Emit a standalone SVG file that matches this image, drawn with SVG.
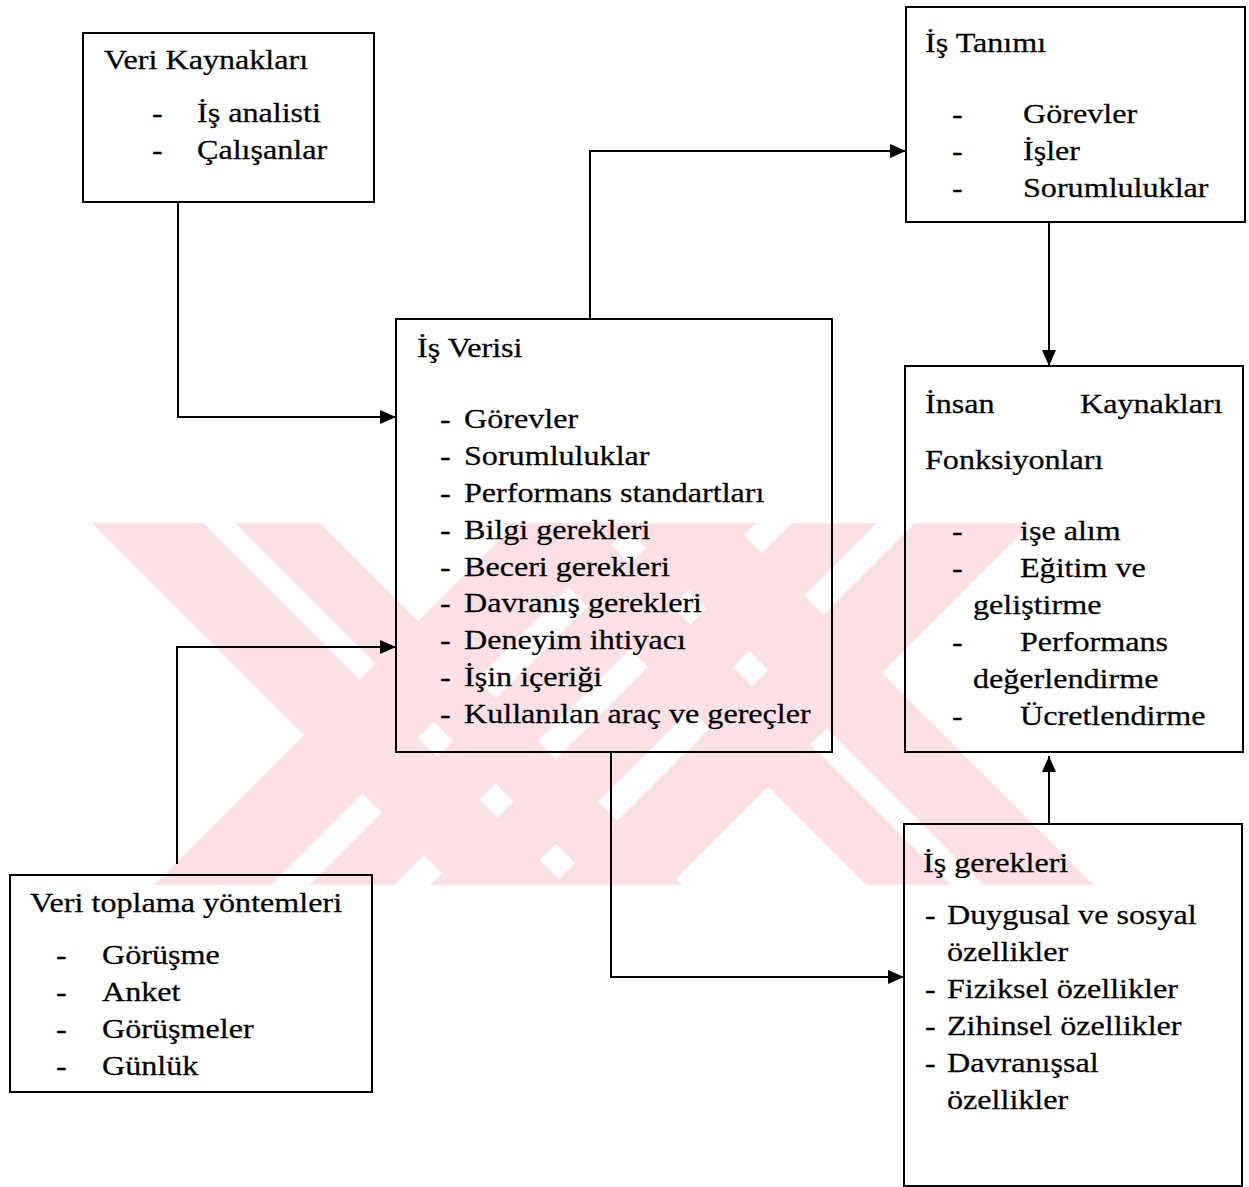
<svg xmlns="http://www.w3.org/2000/svg" width="1249" height="1187" viewBox="0 0 1249 1187">
  <style>
    .box { fill: none; stroke: #000; stroke-width: 2; }
    .link { fill: none; stroke: #000; stroke-width: 2; marker-end: url(#arrow); }
    .mark { fill: #fbe0e5; stroke: none; }
    .t { font-family: "Liberation Serif", "Times New Roman", serif; font-size: 27px; fill: #000;
         stroke: #000; stroke-width: 0.25;
         transform: scaleX(1.19); transform-box: fill-box; transform-origin: 0 0; }
  </style>
  <defs>
    <marker id="arrow" viewBox="0 0 16 14" refX="16" refY="7" markerWidth="16" markerHeight="14"
            markerUnits="userSpaceOnUse" orient="auto">
      <path d="M0,0 L16,7 L0,14 z" fill="#000"/>
    </marker>
  </defs>

  <rect width="1249" height="1187" fill="#fff"/>

  <!-- background emblem: crossing diagonal stripes -->
  <g id="emblem" class="mark">
    <polygon points="92,523 203,523 565,885 454,885"/>
    <polygon points="235,523 320,523 682,885 597,885"/>
    <polygon points="504,523 589,523 951,885 866,885"/>
    <polygon points="621,523 732,523 1094,885 983,885"/>
    <polygon points="516,523 633,523 271,885 154,885"/>
    <polygon points="671,523 756,523 394,885 309,885"/>
    <polygon points="792,523 877,523 515,885 430,885"/>
    <polygon points="915,523 1032,523 670,885 553,885"/>
  </g>

  <!-- connectors -->
  <g id="connectors">
    <path class="link" d="M178,202 V417 H396"/>
    <path class="link" d="M177,864 V647 H396"/>
    <path class="link" d="M590,319 V151 H906"/>
    <path class="link" d="M1049,222 V366"/>
    <path class="link" d="M611,753 V977 H904"/>
    <path class="link" d="M1049,824 V756"/>
  </g>

  <g id="veri-kaynaklari">
    <rect class="box" x="83" y="33" width="291" height="169"/>
    <text class="t" x="104" y="69">Veri Kaynakları</text>
    <text class="t" x="152" y="122">-</text>
    <text class="t" x="197" y="122">İş analisti</text>
    <text class="t" x="152" y="159">-</text>
    <text class="t" x="197" y="159">Çalışanlar</text>
  </g>

  <g id="is-tanimi">
    <rect class="box" x="906" y="7" width="339" height="215"/>
    <text class="t" x="925" y="52">İş Tanımı</text>
    <text class="t" x="952" y="123">-</text>
    <text class="t" x="1023" y="123">Görevler</text>
    <text class="t" x="952" y="160">-</text>
    <text class="t" x="1023" y="160">İşler</text>
    <text class="t" x="952" y="197">-</text>
    <text class="t" x="1023" y="197">Sorumluluklar</text>
  </g>

  <g id="is-verisi">
    <rect class="box" x="396" y="319" width="436" height="433"/>
    <text class="t" x="417" y="357">İş Verisi</text>
    <text class="t" x="440" y="428">-</text>
    <text class="t" x="464" y="428">Görevler</text>
    <text class="t" x="440" y="465">-</text>
    <text class="t" x="464" y="465">Sorumluluklar</text>
    <text class="t" x="440" y="502">-</text>
    <text class="t" x="464" y="502">Performans standartları</text>
    <text class="t" x="440" y="539">-</text>
    <text class="t" x="464" y="539">Bilgi gerekleri</text>
    <text class="t" x="440" y="576">-</text>
    <text class="t" x="464" y="576">Beceri gerekleri</text>
    <text class="t" x="440" y="612">-</text>
    <text class="t" x="464" y="612">Davranış gerekleri</text>
    <text class="t" x="440" y="649">-</text>
    <text class="t" x="464" y="649">Deneyim ihtiyacı</text>
    <text class="t" x="440" y="686">-</text>
    <text class="t" x="464" y="686">İşin içeriği</text>
    <text class="t" x="440" y="723">-</text>
    <text class="t" x="464" y="723">Kullanılan araç ve gereçler</text>
  </g>

  <g id="ik-fonksiyonlari">
    <rect class="box" x="905" y="366" width="338" height="386"/>
    <text class="t" x="925" y="413">İnsan</text>
    <text class="t" x="1080" y="413">Kaynakları</text>
    <text class="t" x="925" y="469">Fonksiyonları</text>
    <text class="t" x="952" y="540">-</text>
    <text class="t" x="1020" y="540">işe alım</text>
    <text class="t" x="952" y="577">-</text>
    <text class="t" x="1020" y="577">Eğitim ve</text>
    <text class="t" x="973" y="614">geliştirme</text>
    <text class="t" x="952" y="651">-</text>
    <text class="t" x="1020" y="651">Performans</text>
    <text class="t" x="973" y="688">değerlendirme</text>
    <text class="t" x="952" y="725">-</text>
    <text class="t" x="1020" y="725">Ücretlendirme</text>
  </g>

  <g id="veri-toplama">
    <rect class="box" x="10" y="875" width="362" height="217"/>
    <text class="t" x="30" y="912">Veri toplama yöntemleri</text>
    <text class="t" x="56" y="964">-</text>
    <text class="t" x="102" y="964">Görüşme</text>
    <text class="t" x="56" y="1001">-</text>
    <text class="t" x="102" y="1001">Anket</text>
    <text class="t" x="56" y="1038">-</text>
    <text class="t" x="102" y="1038">Görüşmeler</text>
    <text class="t" x="56" y="1075">-</text>
    <text class="t" x="102" y="1075">Günlük</text>
  </g>

  <g id="is-gerekleri">
    <rect class="box" x="904" y="824" width="338" height="362"/>
    <text class="t" x="923" y="872">İş gerekleri</text>
    <text class="t" x="925" y="924">-</text>
    <text class="t" x="947" y="924">Duygusal ve sosyal</text>
    <text class="t" x="947" y="961">özellikler</text>
    <text class="t" x="925" y="998">-</text>
    <text class="t" x="947" y="998">Fiziksel özellikler</text>
    <text class="t" x="925" y="1035">-</text>
    <text class="t" x="947" y="1035">Zihinsel özellikler</text>
    <text class="t" x="925" y="1072">-</text>
    <text class="t" x="947" y="1072">Davranışsal</text>
    <text class="t" x="947" y="1109">özellikler</text>
  </g>
</svg>
